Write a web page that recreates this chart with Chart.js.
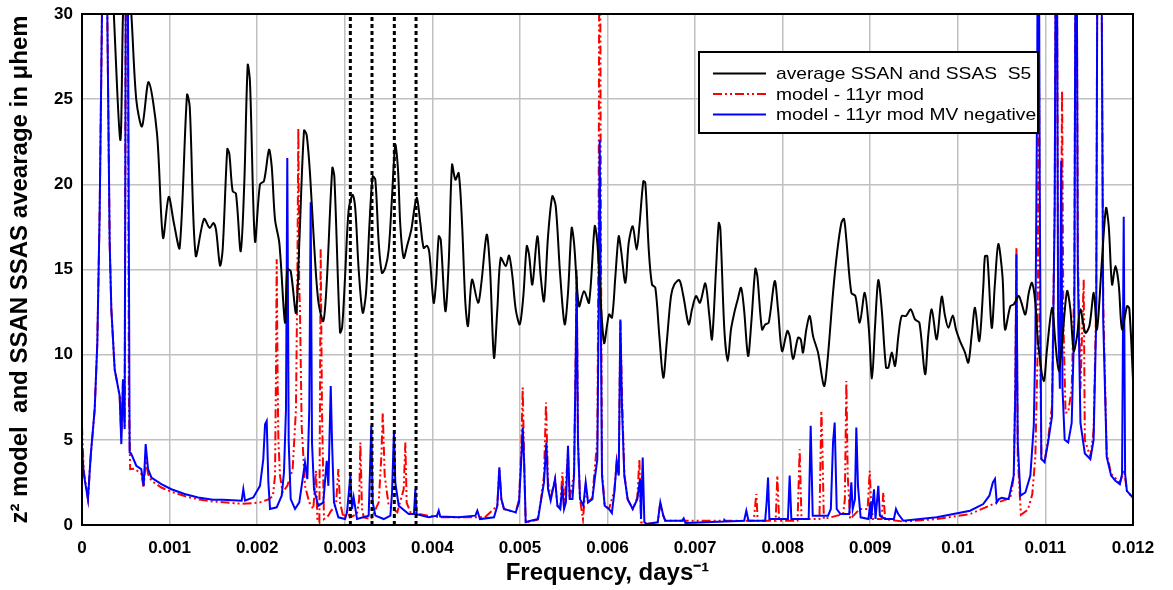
<!DOCTYPE html>
<html>
<head>
<meta charset="utf-8">
<script src="https://cdn.jsdelivr.net/npm/chart.js@4.4.1/dist/chart.umd.min.js"></script>
<style>
  html, body { margin: 0; padding: 0; background: #fff; }
  #wrap { width: 1173px; height: 590px; }
</style>
</head>
<body>
<div id="wrap"><canvas id="espectro" width="1173" height="590"></canvas></div>
<script>
// frequencias em unidades de 0.001 dias^-1
const freqMedia = [0.30,0.354,0.437,0.468,0.50,0.563,0.62,0.685,0.761,0.856,0.925,0.99,1.05,1.115,1.199,1.23,1.298,1.393,1.458,1.499,1.530,1.576,1.606,1.659,1.682,1.720,1.758,1.812,1.853,1.892,1.918,1.975,2.032,2.078,2.135,2.166,2.204,2.253,2.318,2.344,2.383,2.443,2.481,2.535,2.565,2.603,2.649,2.698,2.755,2.794,2.858,2.881,2.946,2.97,3.003,3.045,3.091,3.121,3.159,3.205,3.243,3.281,3.319,3.349,3.388,3.425,3.463,3.502,3.540,3.577,3.608,3.635,3.673,3.711,3.760,3.799,3.825,3.863,3.901,3.939,3.966,4.015,4.042,4.073,4.096,4.149,4.187,4.225,4.263,4.301,4.339,4.377,4.407,4.453,4.522,4.560,4.621,4.659,4.704,4.742,4.781,4.838,4.876,4.914,4.952,4.998,5.039,5.078,5.104,5.142,5.199,5.237,5.275,5.321,5.370,5.409,5.458,5.511,5.549,5.591,5.618,5.675,5.732,5.789,5.854,5.884,5.960,6.017,6.052,6.090,6.128,6.154,6.204,6.242,6.288,6.333,6.364,6.409,6.432,6.471,6.508,6.546,6.592,6.637,6.676,6.725,6.763,6.820,6.866,6.927,6.965,7.011,7.056,7.117,7.163,7.193,7.239,7.270,7.288,7.334,7.373,7.410,7.448,7.487,7.525,7.559,7.605,7.642,7.688,7.711,7.764,7.802,7.841,7.909,7.947,7.993,8.053,8.080,8.118,8.175,8.206,8.232,8.270,8.309,8.347,8.404,8.472,8.510,8.575,8.621,8.670,8.700,8.727,8.784,8.830,8.880,8.937,8.983,9.02,9.055,9.092,9.131,9.180,9.207,9.245,9.283,9.321,9.359,9.408,9.462,9.511,9.561,9.626,9.663,9.702,9.759,9.816,9.854,9.892,9.942,9.979,10.025,10.082,10.120,10.159,10.196,10.245,10.291,10.310,10.337,10.387,10.424,10.462,10.51,10.539,10.600,10.638,10.695,10.726,10.771,10.810,10.847,10.885,10.916,10.981,11.018,11.076,11.114,11.152,11.190,11.247,11.285,11.323,11.361,11.399,11.456,11.502,11.552,11.589,11.646,11.692,11.723,11.761,11.799,11.837,11.875,11.932,11.958,12.0];
const valMedia = [36,31,22.6,30,34,30,24.96,23.4,26.0,23.0,16.86,19.26,17.7,16.27,25.25,24.57,15.82,17.97,17.44,17.73,17.34,15.23,16.17,22.07,21.8,19.6,19.45,16.07,20.08,27.0,26.0,16.66,20.0,20.2,22.03,21.05,17.93,16.56,11.88,15.0,14.9,12.46,16.56,23.16,22.9,20.66,16.56,13.14,11.97,14.2,20.96,20.47,11.3,11.6,14.5,18.52,19.39,18.52,15.0,12.46,13.63,17.54,20.47,20.27,16.56,14.8,15.1,16.17,19.3,22.32,20.86,17.54,15.68,16.37,17.34,18.71,19.2,17.73,16.27,16.4,15.98,13.05,14.22,16.95,16.75,12.56,15.39,21.15,20.27,20.66,17.73,13.05,11.68,14.4,13.05,14.22,17.05,15.0,9.82,12.66,15.68,15.2,15.82,14.61,12.66,11.78,13.44,16.37,15.88,14.12,16.95,14.61,13.14,16.95,19.3,18.71,14.8,11.78,13.63,17.44,16.56,12.85,13.73,13.05,17.54,16.56,10.7,12.36,12.17,14.61,16.95,16.17,14.22,16.56,17.54,16.17,17.54,20.18,20.08,16.17,14.12,13.93,11.09,8.65,10.7,13.44,14.12,14.37,13.44,11.78,12.66,13.44,13.05,14.18,12.27,10.9,15.0,17.73,17.44,11.48,9.63,11.48,12.46,13.24,13.93,12.66,9.92,11.88,15.04,14.61,11.48,11.78,11.88,14.32,12.66,10.21,11.39,11.09,9.73,11.0,10.9,10.12,11.48,12.27,11.09,10.12,8.16,9.53,13.63,15.98,17.73,17.97,16.76,13.63,13.44,11.88,13.63,11.58,8.6,11.68,14.37,12.66,9.24,9.24,10.12,9.34,11.09,12.27,12.27,12.66,12.07,11.88,8.85,11.19,12.66,10.9,13.4,12.27,11.58,12.3,11.48,10.8,10.12,9.53,11.19,12.75,10.8,14.02,15.78,15.78,11.58,14.22,16.5,14.6,11.48,12.85,12.95,13.44,13.05,12.36,13.63,14.22,13.05,10.7,8.46,10.31,12.75,10.7,9.04,10.7,13.73,12.66,10.21,11.09,12.66,11.29,11.68,13.63,11.48,15.59,18.61,17.54,14.12,15.2,14.12,11.48,12.85,12.7,8.55];

const freqModelo = [0,0.02,0.068,0.099,0.145,0.175,0.202,0.228,0.25,0.275,0.289,0.316,0.335,0.373,0.430,0.449,0.468,0.487,0.499,0.512,0.525,0.535,0.55,0.60,0.677,0.704,0.727,0.754,0.792,0.906,1.02,1.172,1.325,1.496,1.823,1.956,2.032,2.128,2.18,2.204,2.215,2.223,2.233,2.242,2.261,2.291,2.344,2.405,2.443,2.459,2.47,2.48,2.489,2.508,2.546,2.595,2.641,2.672,2.687,2.71,2.718,2.725,2.74,2.763,2.813,2.84,2.90,2.927,2.946,2.984,3.03,3.06,3.14,3.165,3.178,3.197,3.217,3.30,3.388,3.418,3.434,3.456,3.502,3.60,3.673,3.692,3.707,3.75,3.95,4.10,4.40,4.60,4.742,4.765,4.788,4.818,4.952,4.99,5.016,5.032,5.047,5.066,5.20,5.237,5.275,5.298,5.321,5.351,5.401,5.428,5.46,5.485,5.504,5.549,5.568,5.618,5.637,5.648,5.663,5.686,5.72,5.751,5.778,5.827,5.854,5.884,5.899,5.911,5.924,5.937,5.968,6.017,6.078,6.105,6.128,6.147,6.166,6.192,6.23,6.288,6.34,6.364,6.383,6.45,6.573,6.603,6.637,6.66,7.67,7.699,7.715,7.92,7.939,7.96,8.17,8.194,8.215,8.42,8.442,8.452,8.47,8.69,8.71,8.727,8.743,8.77,8.88,8.97,8.994,9.01,9.03,9.13,9.149,9.17,9.38,9.76,10.14,10.36,10.444,10.50,10.60,10.64,10.657,10.669,10.684,10.72,10.80,10.85,10.885,10.91,10.925,10.94,10.955,10.99,11.03,11.076,11.106,11.125,11.145,11.17,11.19,11.205,11.23,11.26,11.30,11.33,11.35,11.37,11.40,11.437,11.45,11.513,11.55,11.58,11.60,11.63,11.66,11.70,11.75,11.85,11.9,11.93,12.0];
const valModelo = [5.8,3.2,1.52,4.0,6.8,10.7,18.5,30,45,40,30,16.56,12.66,9.14,7.58,5.2,8.55,5.8,30,45,30,7.58,3.28,3.3,3.0,2.2,3.8,3.0,2.6,2.2,1.95,1.7,1.5,1.38,1.25,1.28,1.33,1.5,1.7,2.9,9,15.6,8.75,5,2.9,1.91,2.3,3.28,6.8,14.6,23.3,14,12.66,5.82,2.3,1.33,0.94,3.18,0.35,0.16,8,16.27,6.8,0.35,0.55,0.8,1.2,3.28,1.33,0.45,0.84,0.45,0.64,1.5,4.84,0.94,0.45,0.35,1.33,4.06,6.6,2.9,1.13,0.75,2.1,4.84,1.3,0.75,0.55,0.45,0.45,0.45,1.13,3.3,1.52,0.94,0.74,1.5,4.5,8.07,4.0,0.16,0.3,1.33,2.9,7.19,2.5,1.6,2.7,1.13,1.0,3.09,1.0,4.2,1.52,3.0,10,15.0,5,1.52,0.35,2.3,1.33,1.6,3.28,5,18,45,18,3.2,1.13,0.94,2.0,3.77,3.0,12.0,7.5,3.0,1.52,0.94,1.6,3.87,0.16,0.06,0.16,1.33,0.55,0.25,0.25,1.82,0.25,0.25,2.9,0.25,0.25,4.45,0.35,0.35,6.7,5.0,0.35,0.64,1.5,8.46,2.9,0.35,0.94,0.94,3.18,1.33,0.35,0.35,1.91,0.35,0.2,0.35,0.64,1.13,1.33,1.4,1.6,2.9,9,16.3,4,0.6,0.9,1.8,4,10,29.6,10,3.9,3.7,5,7,19,45,13,10,25.5,12,6.6,6.6,8,14,45,16,8,14.4,5,4.0,5.5,13,45,45,13,4.2,3.0,2.5,3.2,2.0,1.6];

const freqModeloMV = [0,0.02,0.068,0.099,0.145,0.175,0.202,0.228,0.25,0.275,0.289,0.316,0.335,0.373,0.430,0.449,0.468,0.487,0.499,0.512,0.525,0.544,0.56,0.62,0.677,0.704,0.727,0.754,0.792,0.906,1.02,1.172,1.325,1.496,1.61,1.823,1.842,1.861,1.956,2.032,2.07,2.09,2.109,2.128,2.147,2.223,2.28,2.306,2.329,2.344,2.36,2.383,2.432,2.481,2.546,2.573,2.595,2.611,2.626,2.649,2.698,2.755,2.794,2.813,2.84,2.855,2.877,2.927,3.003,3.026,3.064,3.083,3.102,3.14,3.273,3.303,3.319,3.35,3.445,3.521,3.54,3.562,3.577,3.616,3.73,3.79,3.806,3.821,3.958,4.053,4.073,4.09,4.301,4.491,4.514,4.544,4.704,4.742,4.765,4.788,4.818,4.952,4.99,5.016,5.032,5.047,5.066,5.123,5.207,5.237,5.275,5.302,5.321,5.351,5.401,5.428,5.46,5.485,5.504,5.525,5.549,5.568,5.60,5.618,5.637,5.648,5.663,5.686,5.724,5.751,5.778,5.827,5.854,5.884,5.899,5.911,5.924,5.937,5.968,6.017,6.05,6.078,6.105,6.128,6.147,6.166,6.192,6.23,6.288,6.34,6.371,6.383,6.402,6.421,6.45,6.573,6.603,6.637,6.66,6.85,6.870,6.89,7.33,7.334,7.35,7.56,7.585,7.61,7.80,7.817,7.833,7.848,8.06,8.08,8.099,8.297,8.32,8.343,8.518,8.55,8.575,8.594,8.617,8.66,8.76,8.784,8.80,8.825,8.841,8.86,8.89,8.98,9.00,9.01,9.043,9.06,9.092,9.11,9.169,9.27,9.294,9.32,9.378,9.759,10.14,10.29,10.36,10.40,10.424,10.444,10.47,10.50,10.58,10.638,10.657,10.669,10.684,10.715,10.771,10.828,10.867,10.885,10.905,10.92,10.935,10.953,10.99,11.03,11.076,11.106,11.125,11.145,11.165,11.18,11.195,11.22,11.26,11.30,11.33,11.35,11.37,11.40,11.45,11.513,11.55,11.58,11.60,11.63,11.66,11.70,11.75,11.80,11.85,11.875,11.894,11.91,11.93,12.0];
const valModeloMV = [4.5,3.0,1.52,4.06,6.8,10.7,18.5,30,45,40,30,16.56,12.66,9.14,7.58,4.75,8.55,5.63,30,45,30,4.26,4.2,3.48,3.28,2.3,4.75,3.28,2.79,2.4,2.1,1.82,1.62,1.48,1.48,1.43,2.1,1.43,1.62,2.3,3.87,5.92,6.11,2.5,0.94,1.04,1.72,3.09,6.8,21.54,4.84,1.52,0.94,1.33,3.67,2.7,6.8,18.95,4.84,2.1,1.13,1.33,3.77,2.3,8.16,4.84,1.33,0.45,0.35,0.74,2.9,0.94,1.62,0.35,0.55,5.82,1.33,0.55,0.35,0.55,1.91,5.53,2.5,1.13,0.64,0.64,2.1,0.64,0.45,0.55,0.84,0.5,0.45,0.55,0.84,0.35,0.45,1.13,3.38,1.52,0.94,0.74,1.33,3.87,5.72,3.87,0.16,0.25,0.35,1.33,2.5,4.84,2.1,1.43,2.7,1.13,0.94,2.3,0.94,1.33,4.65,1.52,1.52,2.9,9.73,14.6,4.84,1.52,1.13,2.5,1.33,1.52,2.7,3.87,12.66,22.6,12.0,2.9,1.13,0.94,0.7,1.91,3.67,2.9,12.07,6.8,2.9,1.52,0.94,1.52,2.7,0.35,3.96,0.16,0.06,0.16,1.33,0.55,0.25,0.25,0.39,0.12,0.2,0.3,0.2,0.25,0.84,0.25,0.25,1.33,2.79,0.35,0.35,2.9,0.35,0.35,5.82,0.55,0.55,0.94,4.84,6.02,0.94,0.64,0.64,2.5,0.94,1.5,5.72,2.3,0.45,0.35,1.33,0.35,2.1,0.35,2.3,0.55,0.35,0.35,0.94,0.64,0.25,0.45,0.84,1.23,1.72,2.5,2.7,1.33,1.52,1.6,1.52,2.9,8,15.9,4.84,1.72,1.91,2.9,5.82,10.7,25,45,20,3.87,3.7,4.84,6.4,18.5,45,12,8,21.4,8,5.0,4.84,6,12,45,15,6,4.2,3.87,5,12,45,45,12,4,2.9,2.6,2.4,3,18.1,3,2.0,1.6];

// linhas verticais pontilhadas
const freqMarcadores = [3.064, 3.311, 3.566, 3.814];

const rotulosX = ['0','0.001','0.002','0.003','0.004','0.005','0.006','0.007','0.008','0.009','0.01','0.011','0.012'];
const nomesSeries = ['average SSAN and SSAS  S5', 'model - 11yr mod', 'model - 11yr mod MV negative'];

const fonte = "'Liberation Sans', Arial, sans-serif";
Chart.defaults.font.family = fonte;
Chart.defaults.color = '#000';

function pontos(freqs, vals) {
    return freqs.map((f, i) => ({ x: f / 1000, y: vals[i] }));
}

const datasets = [
    { label: nomesSeries[0], data: pontos(freqMedia, valMedia), borderColor: '#000000', borderWidth: 2, tension: 0.3, order: 1 },
    { label: nomesSeries[1], data: pontos(freqModelo, valModelo), borderColor: '#ff0000', borderWidth: 2, borderDash: [9, 3, 2, 3, 2, 3], order: 3 },
    { label: nomesSeries[2], data: pontos(freqModeloMV, valModeloMV), borderColor: '#0000ff', borderWidth: 2, order: 2 }
];
freqMarcadores.forEach(f => {
    datasets.push({ label: '', data: [{ x: f / 1000, y: 0 }, { x: f / 1000, y: 30 }], borderColor: '#000', borderWidth: 3, borderDash: [4, 3], order: 0 });
});

// caixa da legenda dentro do grafico
const legendaCaixa = {
    id: 'legendaCaixa',
    afterDatasetsDraw(chart) {
        const ctx = chart.ctx;
        ctx.save();
        ctx.fillStyle = '#fff';
        ctx.fillRect(699, 52, 339, 81);
        ctx.lineWidth = 2;
        ctx.strokeStyle = '#000';
        ctx.strokeRect(699, 52, 339, 81);
        chart.data.datasets.slice(0, 3).forEach((ds, i) => {
            const y = 73.5 + i * 20.5;
            ctx.beginPath();
            ctx.setLineDash(ds.borderDash || []);
            ctx.strokeStyle = ds.borderColor;
            ctx.lineWidth = 2;
            ctx.moveTo(713, y);
            ctx.lineTo(766, y);
            ctx.stroke();
            ctx.setLineDash([]);
            ctx.save();
            ctx.translate(776, y);
            ctx.scale(1.13, 1);
            ctx.font = '17px ' + fonte;
            ctx.fillStyle = '#000';
            ctx.textBaseline = 'middle';
            ctx.fillText(ds.label, 0, 1);
            ctx.restore();
        });
        ctx.restore();
    },
    afterDraw(chart) {
        const a = chart.chartArea;
        const ctx = chart.ctx;
        ctx.save();
        ctx.lineWidth = 2;
        ctx.strokeStyle = '#000';
        ctx.strokeRect(a.left, a.top, a.right - a.left, a.bottom - a.top);
        ctx.restore();
    }
};

new Chart(document.getElementById('espectro'), {
    type: 'line',
    data: { datasets: datasets },
    options: {
        responsive: false,
        animation: false,
        devicePixelRatio: 1,
        layout: { padding: { left: 0, right: 40, top: 14, bottom: 0 } },
        elements: { point: { radius: 0 }, line: { fill: false } },
        plugins: { legend: { display: false }, tooltip: { enabled: false } },
        scales: {
            x: {
                type: 'linear',
                min: 0,
                max: 0.012,
                afterFit: s => { s.height = 65; s.paddingLeft = 0; s.paddingRight = 0; },
                grid: { color: '#c0c0c0', lineWidth: 1.5, drawTicks: false },
                border: { color: '#000', width: 2 },
                ticks: {
                    stepSize: 0.001,
                    autoSkip: false,
                    maxRotation: 0,
                    padding: 13,
                    font: { size: 17, weight: 'bold' },
                    callback: (v, i) => rotulosX[i]
                },
                title: {
                    display: true,
                    text: 'Frequency, days\u207B\u00B9',
                    font: { size: 24, weight: 'bold' },
                    padding: { top: 0, bottom: 2 }
                }
            },
            y: {
                min: 0,
                max: 30,
                afterFit: s => { s.width = 82; s.paddingTop = 0; s.paddingBottom = 0; },
                grid: { color: '#c0c0c0', lineWidth: 1.5, drawTicks: false },
                border: { color: '#000', width: 2 },
                ticks: { stepSize: 5, padding: 9, font: { size: 17, weight: 'bold' } },
                title: {
                    display: true,
                    text: 'z\u00B2 model  and SSAN SSAS avearage in \u03BChem',
                    font: { size: 24, weight: 'bold' },
                    padding: { top: 6, bottom: 0 }
                }
            }
        }
    },
    plugins: [legendaCaixa]
});
</script>
</body>
</html>
